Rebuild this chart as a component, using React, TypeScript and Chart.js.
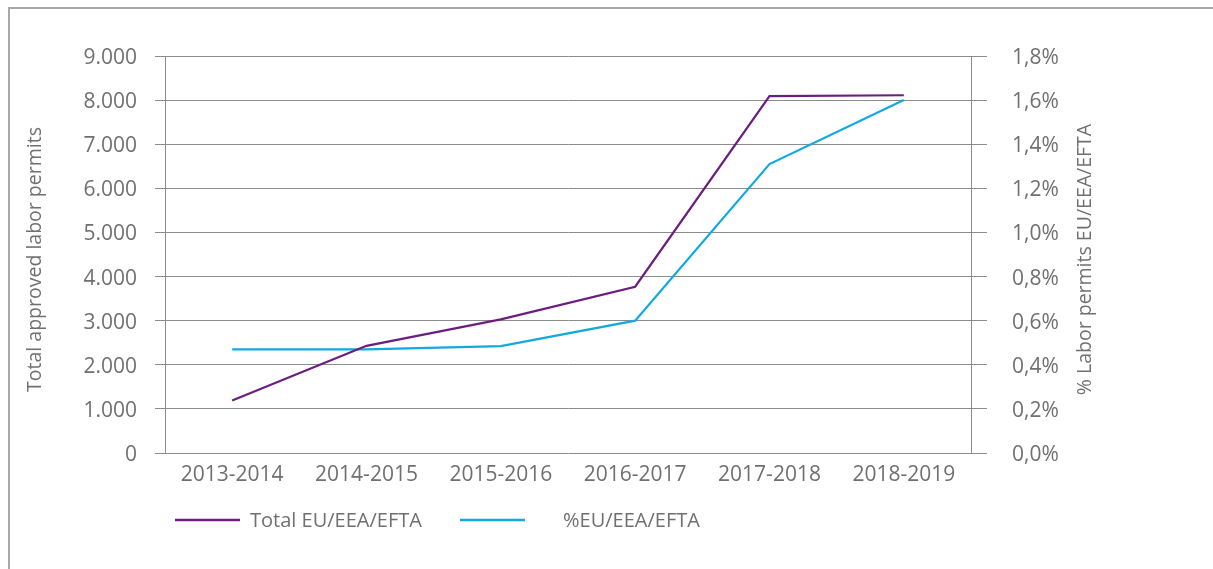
import React, { useEffect, useRef } from 'react';
import { Chart, registerables } from 'chart.js';

Chart.register(...registerables);

// ---- data ----
const categories = ['2013-2014', '2014-2015', '2015-2016', '2016-2017', '2017-2018', '2018-2019'];
const totalEU = [1190, 2430, 3030, 3770, 8090, 8110];
const pctEU = [0.47, 0.47, 0.485, 0.6, 1.31, 1.6];
const seriesLabels = ['Total EU/EEA/EFTA', '%EU/EEA/EFTA'];
const leftTitle = 'Total approved labor permits';
const rightTitle = '% Labor permits EU/EEA/EFTA';

const PURPLE = '#6b1d80';
const BLUE = '#12a8e0';
const GRID = '#8c8c8c';
const TEXT = '#707070';
const FONT = "'Open Sans', sans-serif";

const W = 1203;
const H = 560;
const PLOT_LEFT = 155;
const PLOT_RIGHT = 961;
const PLOT_TOP = 47;
const PLOT_BOTTOM = 444;

export default function App() {
  const ref = useRef<HTMLCanvasElement>(null);

  useEffect(() => {
    if (!ref.current) return;

    const extras = {
      id: 'extras',
      afterDraw(chart: any) {
        const ctx = chart.ctx as CanvasRenderingContext2D;
        ctx.save();
        ctx.fillStyle = TEXT;
        ctx.font = `19.5px ${FONT}`;
        ctx.textAlign = 'center';
        ctx.textBaseline = 'middle';
        const cy = (PLOT_TOP + PLOT_BOTTOM) / 2 + 5;
        // left axis title
        ctx.save();
        ctx.translate(25, cy);
        ctx.rotate(-Math.PI / 2);
        ctx.fillText(leftTitle, 0, 0);
        ctx.restore();
        // right axis title
        ctx.save();
        ctx.translate(1075, cy);
        ctx.rotate(-Math.PI / 2);
        ctx.fillText(rightTitle, 0, 0);
        ctx.restore();

        // legend
        const legendY = 511;
        const items = [
          { x: 165, tx: 240, color: PURPLE },
          { x: 450, tx: 553, color: BLUE },
        ];
        chart.data.datasets.forEach((ds: any, i: number) => {
          const it = items[i];
          ctx.strokeStyle = it.color;
          ctx.lineWidth = 2.5;
          ctx.beginPath();
          ctx.moveTo(it.x, legendY);
          ctx.lineTo(it.x + 65, legendY);
          ctx.stroke();
          ctx.fillStyle = TEXT;
          ctx.font = `20px ${FONT}`;
          ctx.textAlign = 'left';
          ctx.textBaseline = 'middle';
          ctx.fillText(ds.label, it.tx, legendY + 1);
        });
        ctx.restore();
      },
    };

    const chart = new Chart(ref.current, {
      type: 'line',
      data: {
        labels: categories,
        datasets: [
          {
            label: seriesLabels[0],
            data: totalEU,
            borderColor: PURPLE,
            backgroundColor: PURPLE,
            borderWidth: 2.2,
            pointRadius: 0,
            tension: 0,
            yAxisID: 'y',
          },
          {
            label: seriesLabels[1],
            data: pctEU,
            borderColor: BLUE,
            backgroundColor: BLUE,
            borderWidth: 2.2,
            pointRadius: 0,
            tension: 0,
            yAxisID: 'y1',
          },
        ],
      },
      options: {
        responsive: false,
        animation: false,
        devicePixelRatio: 1,
        layout: { padding: { top: PLOT_TOP, left: 0, right: 0, bottom: 0 } },
        plugins: {
          legend: { display: false },
          tooltip: { enabled: false },
        },
        scales: {
          x: {
            type: 'category',
            offset: true,
            grid: { display: false },
            border: { display: false },
            ticks: {
              color: TEXT,
              font: { family: FONT, size: 21 },
              padding: 1,
              maxRotation: 0,
            },
            afterFit(scale: any) {
              scale.height = H - PLOT_BOTTOM;
            },
          },
          y: {
            position: 'left',
            min: 0,
            max: 9000,
            ticks: {
              stepSize: 1000,
              color: TEXT,
              font: { family: FONT, size: 21 },
              padding: 18,
              labelOffset: 2,
              callback: (v: any) => Number(v).toLocaleString('de-DE'),
            },
            grid: { color: GRID, lineWidth: 1, drawTicks: true, tickLength: 10 },
            border: { display: true, color: GRID, width: 1 },
            afterFit(scale: any) {
              scale.width = PLOT_LEFT;
            },
          },
          y1: {
            position: 'right',
            min: 0,
            max: 1.8,
            ticks: {
              stepSize: 0.2,
              color: TEXT,
              font: { family: FONT, size: 21 },
              padding: 25,
              labelOffset: 2,
              callback: (v: any) => Number(v).toFixed(1).replace('.', ',') + '%',
            },
            grid: { color: GRID, lineWidth: 1, drawOnChartArea: false, drawTicks: true, tickLength: 16 },
            border: { display: true, color: GRID, width: 1 },
            afterFit(scale: any) {
              scale.width = W - PLOT_RIGHT;
            },
          },
        },
      },
      plugins: [extras],
    });

    return () => chart.destroy();
  }, []);

  return (
    <div
      style={{
        position: 'fixed',
        left: 8,
        top: 7,
        width: 1205,
        height: 570,
        borderTop: '2px solid #a8a8a8',
        borderLeft: '2px solid #a8a8a8',
        boxSizing: 'border-box',
        background: '#fff',
      }}
    >
      <canvas ref={ref} width={W} height={H} style={{ display: 'block', width: W, height: H }} />
    </div>
  );
}
